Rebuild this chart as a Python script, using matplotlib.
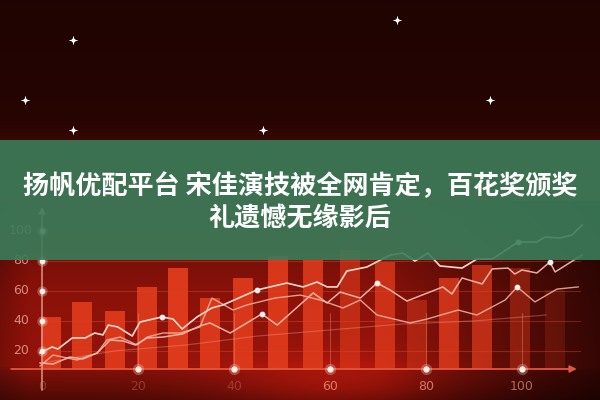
import numpy as np
import matplotlib
matplotlib.use('Agg')
import matplotlib.pyplot as plt

plt.rcParams['font.family'] = ['Noto Sans CJK SC', 'DejaVu Sans']

# headline over the chart
title_lines = ['扬帆优配平台 宋佳演技被全网肯定，百花奖颁奖', '礼遗憾无缘影后']

# bars (x position, top value)
bar_x = [1.9, 8.4, 15.2, 21.9, 28.3, 35.0, 41.9, 49.1, 56.5, 64.2, 71.5, 78.1, 84.8, 91.7, 99.6, 106.9]
bar_top = [42.7, 52.7, 46.7, 62.7, 75.3, 55.3, 68.7, 83.3, 80.7, 87.3, 79.3, 54.0, 68.7, 77.3, 75.3, 60.7]
bar_alpha = [0.9, 0.9, 0.9, 0.9, 0.95, 0.9, 0.9, 0.9, 0.85, 0.6, 0.75, 0.45, 0.8, 0.7, 0.4, 0.2]
base = 8

# lines
a_x = [-0.4, 2.1, 3.3, 6.3, 9.0, 11.0, 12.7, 13.8, 15.8, 18.8, 20.4, 25.0, 27.3, 29.2, 32.3, 35.4, 37.7,
       44.8, 47.5, 51.0, 54.4, 57.3, 59.4, 61.5, 63.5, 67.7, 72.5, 75.2, 77.7, 80.4, 82.9, 87.5, 90.6,
       93.8, 99.2, 103.1, 104.8, 107.9, 110.4, 112.5]
a_y = [18.7, 22.7, 21.3, 28.7, 28.7, 32.0, 30.7, 37.3, 36.0, 30.0, 39.3, 42.7, 41.3, 34.7, 42.7, 48.7, 50.7,
       60.7, 62.7, 65.3, 62.7, 66.0, 62.7, 62.7, 73.3, 76.0, 84.0, 85.3, 80.0, 85.3, 76.7, 75.3, 81.3,
       81.3, 92.7, 92.7, 96.0, 95.3, 97.3, 104.0]

b_x = [-0.4, 2.3, 5.8, 8.5, 11.5, 14.2, 16.9, 19.4, 21.9, 25.2, 29.2, 32.9, 35.0, 39.2, 45.8, 49.0,
       56.5, 59.4, 62.1, 66.3, 69.8, 72.5, 76.0, 83.5, 85.4, 87.5, 91.7, 93.8, 97.1, 98.5, 100.0,
       103.1, 105.8, 106.9, 112.5]
b_y = [12.0, 11.3, 16.0, 14.7, 18.7, 27.3, 26.7, 24.0, 28.7, 29.3, 31.3, 36.7, 38.7, 32.0, 44.7, 37.3,
       58.7, 52.0, 59.3, 55.3, 65.3, 60.7, 53.3, 62.7, 58.0, 68.7, 64.7, 74.7, 75.3, 71.3, 74.0,
       72.0, 79.3, 72.7, 84.0]

c_x = [-0.4, 2.3, 7.3, 11.5, 13.5, 16.3, 19.8, 21.9, 25.2, 28.8, 32.9, 35.4, 39.8, 42.7, 48.5, 53.8,
       57.9, 62.7, 66.3, 69.8, 76.7, 80.2, 86.7, 90.6, 96.5, 99.0, 102.7, 107.3, 111.7]
c_y = [10.0, 17.3, 14.0, 18.7, 27.3, 29.3, 24.0, 29.3, 32.0, 32.0, 36.0, 55.3, 47.3, 50.7, 55.3, 57.3,
       54.0, 48.7, 54.0, 44.0, 38.7, 41.3, 47.3, 44.0, 54.0, 62.7, 52.7, 61.3, 62.7]

d_x = [0, 15, 30, 45, 60, 75, 90, 105]
d_y = [12, 20, 24, 30, 34, 38, 40, 44]

dot_x = [25.0, 44.8, 45.8, 69.8, 99.2, 99.0, 105.8]
dot_y = [42.7, 60.7, 44.7, 65.3, 92.7, 62.7, 79.3]

xtick_vals = [0, 20, 40, 60, 80, 100]
xtick_alpha = [0.3, 0.3, 0.3, 0.75, 0.75, 0.65]
ytick_vals = [20, 40, 60, 80, 100]

star_x = [-3.5, 6.5, 74.0, 6.5, 46.0, 93.3]
star_y = [187.3, 227.3, 240.7, 167.3, 167.3, 187.3]

x0, x1 = -8.75, 116.25
y0, y1 = -12.67, 254.0

fig = plt.figure(figsize=(6, 4), dpi=100)
ax = fig.add_axes([0, 0, 1, 1])
ax.set_xlim(x0, x1)
ax.set_ylim(y0, y1)
ax.axis('off')

# background
H, W = 400, 600
yy, xx = np.mgrid[0:H, 0:W]
lev = np.interp(yy, [0, 120, 140, 260, 300, 366, 370, 400], [0.12, 0.15, 0.22, 0.48, 0.55, 0.58, 0.50, 0.30])
fade = np.interp(xx, [0, 30, 380, 600], [0.8, 1.0, 1.0, 0.35])
fade = np.where(yy > 200, fade, 1.0)
glow = 0.2 * np.exp(-((xx - 330) ** 2) / (2 * 80 ** 2) - ((yy - 385) ** 2) / (2 * 20 ** 2))
r = np.clip(lev * fade + glow, 0, 1)
img = np.dstack([r, r * 0.13, r * 0.07])
ax.imshow(img, extent=(x0, x1, y0, y1), aspect='auto', origin='upper', zorder=0)

# grid lines
for v in ytick_vals[:-1]:
    ax.plot([0, 112], [v, v], color='#e86a4a', alpha=0.3, lw=0.8, zorder=1)

# bars
for x, t, al in zip(bar_x, bar_top, bar_alpha):
    ax.bar(x, t - base, bottom=base, width=4.2, color='#e23c1c', alpha=al, zorder=2, linewidth=0)

# vertical tick guides
for v in xtick_vals[1:]:
    ax.plot([v, v], [base, 45], color='#f0a080', alpha=0.35, lw=0.8, zorder=2)

# lines
ax.plot(d_x, d_y, color='#f0a090', lw=0.9, alpha=0.35, zorder=3)
ax.plot(c_x, c_y, color='#f3b8a6', lw=1.0, alpha=0.85, zorder=3)
ax.plot(b_x, b_y, color='#f4c0b0', lw=1.1, alpha=0.9, zorder=3)
ax.plot(a_x, a_y, color='#fad8cc', lw=1.2, zorder=3)
ax.scatter(dot_x, dot_y, s=10, color='#fff0ea', zorder=4)

# axes
ax.annotate('', xy=(112, base), xytext=(-7, base),
            arrowprops=dict(arrowstyle='-|>', color='#e0583c', lw=1.3, mutation_scale=10), zorder=4)
ax.annotate('', xy=(0, 118), xytext=(0, -8),
            arrowprops=dict(arrowstyle='-|>', color='#e8a090', lw=1.0, mutation_scale=10), zorder=4)

# glowing tick dots
ax.scatter([0] * len(ytick_vals), ytick_vals, s=55, color='#ffd8c8', alpha=0.3, zorder=4, linewidths=0)
ax.scatter([0] * len(ytick_vals), ytick_vals, s=10, color='#fff0e8', zorder=4)
ax.scatter(xtick_vals[1:], [base] * 5, s=65, color='#ffd8c8', alpha=0.3, zorder=4, linewidths=0)
ax.scatter(xtick_vals[1:], [base] * 5, s=12, color='#fff0e8', zorder=4)

for v in ytick_vals:
    ax.text(-4.4, v, str(v), color='#e8a090', fontsize=9, ha='center', va='center',
            family='DejaVu Sans', alpha=0.85, zorder=4)
for v, al in zip(xtick_vals, xtick_alpha):
    ax.text(v, -3.5, str(v), color='#f0a088', fontsize=9, ha='center', va='center',
            family='DejaVu Sans', alpha=al, zorder=4)

# stars
ax.scatter(star_x, star_y, s=30, marker='+', color='white', linewidths=0.7, zorder=4)
ax.scatter(star_x, star_y, s=4, color='white', zorder=4)

# green band
ax.axhspan(80.7, 160.7, color='#3a7d5a', alpha=0.9, zorder=5, linewidth=0)

ax.text(53.75, (381 - 187) / 1.5, title_lines[0], color='white', fontsize=18.8, fontweight='bold',
        ha='center', va='center', zorder=6)
ax.text(53.75, (381 - 219) / 1.5, title_lines[1], color='white', fontsize=18.8, fontweight='bold',
        ha='center', va='center', zorder=6)

fig.savefig('out.png', dpi=100)
